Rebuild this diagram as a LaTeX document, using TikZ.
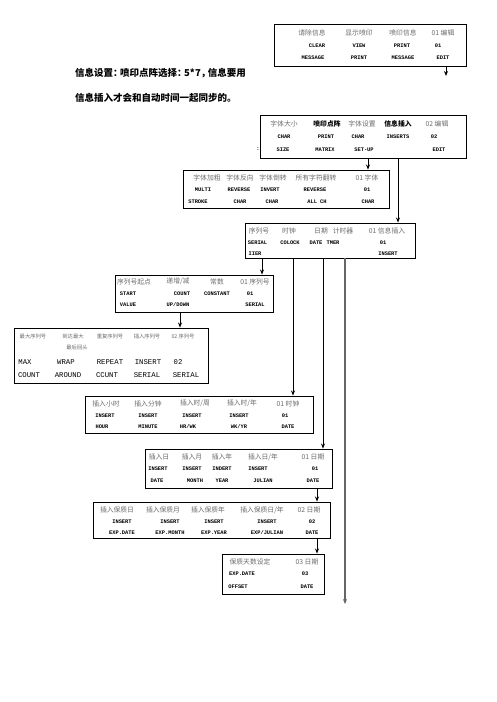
\documentclass[tikz,border=0pt]{standalone}
\usepackage{fontspec}
\setmainfont{Liberation Serif}
\newfontfamily\cjk{Noto Sans CJK SC}
\newfontfamily\mono{Liberation Mono}
\usetikzlibrary{arrows.meta}
\begin{document}
\begin{tikzpicture}[x=1pt,y=-1pt,
  box/.style={draw, line width=0.95pt, inner sep=0},
  cn/.style={font=\cjk\fontsize{6.8}{7}\selectfont, text=black!58, inner sep=0},
  cnb/.style={font=\cjk\bfseries\fontsize{6.8}{7}\selectfont, text=black, inner sep=0},
  cns/.style={font=\cjk\fontsize{5.3}{6}\selectfont, text=black!58, inner sep=0},
  en/.style={font=\mono\bfseries\fontsize{5.4}{6}\selectfont, inner sep=0},
  enl/.style={font=\mono\fontsize{7.3}{8}\selectfont, inner sep=0},
  title/.style={font=\cjk\bfseries\fontsize{9.5}{10}\selectfont, inner sep=0, anchor=west},
  arr/.style={-{Stealth[length=5pt,width=4pt]}, line width=0.85pt},
  garr/.style={-{Stealth[length=5pt,width=4pt]}, line width=1.1pt, draw=black!60}]
\useasboundingbox (0,0) rectangle (496,702);

% boxes
\node[box, minimum width=192pt, minimum height=42pt] (b1) at (370,45) {};
\node[box, minimum width=206pt, minimum height=43pt] (b2) at (363,136.5) {};
\node[box, minimum width=206pt, minimum height=38pt] (b3) at (286,189) {};
\node[box, minimum width=170pt, minimum height=35pt] (b4) at (330,240.5) {};
\node[box, minimum width=158pt, minimum height=37pt] (b5) at (194,293.5) {};
\node[box, minimum width=194pt, minimum height=55pt] (b6) at (111,355.5) {};
\node[box, minimum width=228pt, minimum height=37pt] (b7) at (199,414.5) {};
\node[box, minimum width=187pt, minimum height=39pt] (b8) at (238.5,468.5) {};
\node[box, minimum width=237pt, minimum height=36pt] (b9) at (211.5,520) {};
\node[box, minimum width=102pt, minimum height=40pt] (b10) at (273,574) {};

% plain text
\node[title] (p1) at (75,73) {信息设置：\hspace{-2.5pt}喷印点阵选择：\hspace{-2.5pt}5*7，\hspace{-2.5pt}信息要用};
\node[title] (p2) at (75,98) {信息插入才会和自动时间一起同步的。};

% box 1
\foreach \x/\t [count=\i] in {312/请除信息,359/显示喷印,403/喷印信息,443/{01 编辑}}
  \node[cn] (b1a\i) at (\x,33) {\t};
\foreach \x/\t [count=\i] in {317/CLEAR,359/VIEW,402/PRINT,438/01}
  \node[en] (b1b\i) at (\x,45.5) {\t};
\foreach \x/\t [count=\i] in {313/MESSAGE,359/PRINT,403/MESSAGE,443/EDIT}
  \node[en] (b1c\i) at (\x,58) {\t};

% box 2
\node[cn] (b2a1) at (284,124) {字体大小};
\node[cnb] (b2a2) at (327,124) {喷印点阵};
\node[cn] (b2a3) at (362,124) {字体设置};
\node[cnb] (b2a4) at (398,124) {信息插入};
\node[cn] (b2a5) at (437,124) {02 编辑};
\foreach \x/\t [count=\i] in {284/CHAR,326/PRINT,358/CHAR,398/INSERTS,434/02}
  \node[en] (b2b\i) at (\x,137) {\t};
\foreach \x/\t [count=\i] in {258/:,283/SIZE,325/MATRIX,364/SET-UP,439/EDIT}
  \node[en] (b2c\i) at (\x,149.5) {\t};

% box 3
\foreach \x/\t [count=\i] in {207/字体加粗,240/字体反向,273/字体倒转,316/所有字符翻转,367/{01 字体}}
  \node[cn] (b3a\i) at (\x,178) {\t};
\foreach \x/\t [count=\i] in {203/MULTI,239/REVERSE,270/INVERT,315/REVERSE,367/01}
  \node[en] (b3b\i) at (\x,190) {\t};
\foreach \x/\t [count=\i] in {198/STROKE,240/CHAR,272/CHAR,317/{ALL CH},368/CHAR}
  \node[en] (b3c\i) at (\x,202) {\t};

% box 4
\foreach \x/\t [count=\i] in {259/序列号,289/时钟,321/日期,343/计时器,387/{01 信息插入}}
  \node[cn] (b4a\i) at (\x,231) {\t};
\foreach \x/\t [count=\i] in {257.5/SERIAL,290/COLOCK,316/DATE,333/TMER,383/01}
  \node[en] (b4b\i) at (\x,243) {\t};
\foreach \x/\t [count=\i] in {255/IIER,388/INSERT}
  \node[en] (b4c\i) at (\x,254) {\t};

% box 5
\foreach \x/\t [count=\i] in {134/序列号起点,178/{递增/减},217/常数,255/{01 序列号}}
  \node[cn] (b5a\i) at (\x,281.5) {\t};
\foreach \x/\t [count=\i] in {128/START,182/COUNT,217/CONSTANT,250/01}
  \node[en] (b5b\i) at (\x,293.5) {\t};
\foreach \x/\t [count=\i] in {128/VALUE,178/{UP/DOWN},255/SERIAL}
  \node[en] (b5c\i) at (\x,304.5) {\t};

% box 6
\foreach \x/\t [count=\i] in {33/最大序列号,73/到达最大,110/重复序列号,147/插入序列号,183/{02 序列号}}
  \node[cns] (b6a\i) at (\x,336) {\t};
\node[cns] (b6m) at (77,348) {最后回头};
\foreach \x/\t [count=\i] in {25/MAX,66/WRAP,110/REPEAT,148/INSERT,178/02}
  \node[enl] (b6b\i) at (\x,362) {\t};
\foreach \x/\t [count=\i] in {29/COUNT,68/AROUND,107/CCUNT,147/SERIAL,186/SERIAL}
  \node[enl] (b6c\i) at (\x,375) {\t};

% box 7
\foreach \x/\t [count=\i] in {106/插入小时,148/插入分钟,195/{插入时/周},242/{插入时/年},288/{01 时钟}}
  \node[cn] (b7a\i) at (\x,403.5) {\t};
\foreach \x/\t [count=\i] in {105/INSERT,148/INSERT,192/INSERT,239/INSERT,285/01}
  \node[en] (b7b\i) at (\x,415.5) {\t};
\foreach \x/\t [count=\i] in {102/HOUR,148/MINUTE,188/{HR/WK},239/{WK/YR},288/DATE}
  \node[en] (b7c\i) at (\x,427) {\t};

% box 8
\foreach \x/\t [count=\i] in {159/插入日,192/插入月,222/插入年,263/{插入日/年},313/{01 日期}}
  \node[cn] (b8a\i) at (\x,457) {\t};
\foreach \x/\t [count=\i] in {158/INSERT,192/INSERT,222/INDERT,258/INSERT,315/01}
  \node[en] (b8b\i) at (\x,468.5) {\t};
\foreach \x/\t [count=\i] in {157/DATE,195/MONTH,222/YEAR,263/JULIAN,313/DATE}
  \node[en] (b8c\i) at (\x,480.5) {\t};

% box 9
\foreach \x/\t [count=\i] in {117/插入保质日,163/插入保质月,208/插入保质年,262/{插入保质日/年},309/{02 日期}}
  \node[cn] (b9a\i) at (\x,510) {\t};
\foreach \x/\t [count=\i] in {122/INSERT,170/INSERT,214/INSERT,267/INSERT,312/02}
  \node[en] (b9b\i) at (\x,522) {\t};
\foreach \x/\t [count=\i] in {122/EXP.DATE,170/EXP.MONTH,214/EXP.YEAR,267/{EXP/JULIAN},312/DATE}
  \node[en] (b9c\i) at (\x,533) {\t};

% box 10
\node[cn] (b10a1) at (250,561.5) {保质天数设定};
\node[cn] (b10a2) at (307,561.5) {03 日期};
\node[en] (b10b1) at (242,574) {EXP.DATE};
\node[en] (b10b2) at (305,574) {03};
\node[en] (b10c1) at (238,586.5) {OFFSET};
\node[en] (b10c2) at (307,586.5) {DATE};

% connector coordinates
\coordinate (e1) at (446,76);
\coordinate (x368) at (368,0);
\coordinate (x398) at (398,0);
\coordinate (x262) at (262,0);
\coordinate (x293) at (293,0);
\coordinate (x323) at (323,0);
\coordinate (x180) at (180,0);
\coordinate (x318) at (317,0);
\coordinate (e2) at (345,604);

\draw[arr] (b1.south -| e1) -- (e1);
\draw[arr] (b2.south -| x368) -- (b3.north -| x368);
\draw[arr] (b2.south -| x398) -- (b4.north -| x398);
\draw[arr] (b4.south -| x262) -- (b5.north -| x262);
\draw[arr] (b4.south -| x293) -- (b7.north -| x293);
\draw[arr] (b4.south -| x323) -- (b8.north -| x323);
\draw[garr] (b4.south -| e2) -- (e2);
\draw[arr] (b5.south -| x180) -- (b6.north -| x180);
\draw[arr] (b8.south -| x318) -- (b9.north -| x318);
\draw[arr] (b9.south -| x318) -- (b10.north -| x318);
\end{tikzpicture}
\end{document}
